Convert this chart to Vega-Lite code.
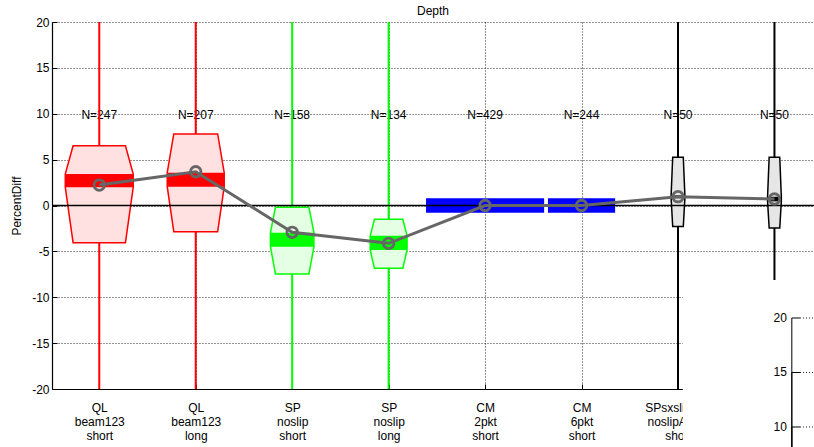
{
  "$schema": "https://vega.github.io/schema/vega-lite/v6.json",
  "width": 762,
  "height": 367,
  "autosize": {"type": "none"},
  "padding": {"left": 52, "top": 22, "right": 0, "bottom": 58},
  "title": {"text": "Depth", "fontSize": 12, "fontWeight": "normal", "color": "#000", "baseline": "bottom", "offset": -14, "anchor": "middle", "frame": "group"},
  "config": {"font": "Liberation Sans", "view": {"stroke": null}},
  "resolve": {"scale": {"y": "independent"}},
  "layer": [
    {
      "data": {"values": [
        {"cat": 1, "method": "QL", "N": 247, "lo": -20, "hi": 20, "q1": -4.05, "nLo": 2.0, "nHi": 3.43, "q3": 6.52, "mean": 2.23},
        {"cat": 2, "method": "QL", "N": 207, "lo": -20, "hi": 20, "q1": -2.85, "nLo": 2.05, "nHi": 3.58, "q3": 7.8, "mean": 3.68},
        {"cat": 3, "method": "SP", "N": 158, "lo": -20, "hi": 20, "q1": -7.47, "nLo": -4.49, "nHi": -2.96, "q3": -0.2, "mean": -2.92},
        {"cat": 4, "method": "SP", "N": 134, "lo": -20, "hi": 20, "q1": -6.85, "nLo": -4.85, "nHi": -3.3, "q3": -1.51, "mean": -4.12},
        {"cat": 5, "method": "CM", "N": 429, "lo": 0, "hi": 0, "q1": 0, "nLo": -0.78, "nHi": 0.78, "q3": 0, "mean": 0.0},
        {"cat": 6, "method": "CM", "N": 244, "lo": 0, "hi": 0, "q1": 0, "nLo": -0.78, "nHi": 0.78, "q3": 0, "mean": 0.0},
        {"cat": 7, "method": "SPsxs", "N": 50, "lo": -20, "hi": 20, "q1": -2.3, "nLo": 0.8, "nHi": 1.1, "q3": 5.25, "mean": 0.96},
        {"cat": 8, "method": "SPsxs", "N": 50, "lo": -20, "hi": 20, "q1": -2.45, "nLo": 0.45, "nHi": 0.95, "q3": 5.25, "mean": 0.71}
      ]},
      "layer": [
        {
          "transform": [{"calculate": "'N=' + datum.N", "as": "nlab"}],
          "mark": {"type": "text", "fontSize": 12, "baseline": "middle", "dy": 1, "color": "#000"},
          "encoding": {
            "x": {"field": "cat", "type": "quantitative",
              "scale": {"domain": [0.51, 8.41], "nice": false, "zero": false},
              "axis": {"values": [1, 2, 3, 4, 5, 6, 7, 8], "title": null, "grid": true, "gridColor": "#000", "gridDash": [1, 2], "gridOpacity": 0.85, "gridWidth": 1,
                "domainColor": "#000", "domainWidth": 1.2, "tickColor": "#000", "tickSize": -5, "tickWidth": 1,
                "labelFontSize": 12, "labelColor": "#000", "labelPadding": 18, "labelLineHeight": 14, "labelFlush": false, "labelOverlap": false, "labelBound": false,
                "labelExpr": "[['QL','beam123','short'],['QL','beam123','long'],['SP','noslip','short'],['SP','noslip','long'],['CM','2pkt','short'],['CM','6pkt','short'],['SPsxslipAvg','noslipAlong','short'],['SPsxslipAvg','noslipAlong','long']][datum.value - 1]"}},
            "y": {"datum": 10, "type": "quantitative",
              "scale": {"domain": [-20, 20], "nice": false, "zero": false},
              "axis": {"values": [-20, -15, -10, -5, 0, 5, 10, 15, 20], "title": "PercentDiff", "titleFontSize": 12, "titleFontWeight": "normal", "titleColor": "#000", "titlePadding": 8,
                "grid": true, "gridColor": "#000", "gridDash": [1, 2], "gridOpacity": 0.85, "gridWidth": 1,
                "domainColor": "#000", "domainWidth": 1.2, "tickColor": "#000", "tickSize": -5, "tickWidth": 1,
                "labelFontSize": 12, "labelColor": "#000", "labelPadding": 8, "labelExpr": "'' + datum.value"}},
            "text": {"field": "nlab"}
          }
        },
        {
          "transform": [{"filter": "datum.hi > datum.lo"}],
          "mark": {"type": "rule", "strokeWidth": 2},
          "encoding": {
            "x": {"field": "cat", "type": "quantitative"},
            "y": {"field": "lo", "type": "quantitative"},
            "y2": {"field": "hi"},
            "stroke": {"field": "method", "type": "nominal", "scale": {"domain": ["QL", "SP", "CM", "SPsxs"], "range": ["#FF0000", "#00FF00", "#0000FF", "#000000"]}, "legend": null}
          }
        },
        {
          "transform": [
            {"filter": "datum.q3 > datum.q1"},
            {"fold": ["q1", "nLo", "nHi", "q3"], "as": ["part", "yv"]},
            {"calculate": "datum.N * 0.001427 * ((datum.part == 'q1' || datum.part == 'q3') ? 0.77 : 1)", "as": "hw"},
            {"calculate": "datum.cat - datum.hw", "as": "xl"},
            {"calculate": "datum.cat + datum.hw", "as": "xr"}
          ],
          "mark": {"type": "area", "orient": "horizontal", "strokeWidth": 1.5},
          "encoding": {
            "x": {"field": "xl", "type": "quantitative"},
            "x2": {"field": "xr"},
            "y": {"field": "yv", "type": "quantitative"},
            "detail": {"field": "cat"},
            "fill": {"field": "method", "type": "nominal", "scale": {"domain": ["QL", "SP", "CM", "SPsxs"], "range": ["#FFE1E1", "#E4FFE4", "#DDDDFF", "#E6E6E6"]}, "legend": null},
            "stroke": {"field": "method", "type": "nominal", "legend": null}
          }
        },
        {
          "transform": [
            {"calculate": "datum.cat - datum.N * 0.001427", "as": "bl"},
            {"calculate": "datum.cat + datum.N * 0.001427", "as": "br"}
          ],
          "mark": {"type": "rect"},
          "encoding": {
            "x": {"field": "bl", "type": "quantitative"},
            "x2": {"field": "br"},
            "y": {"field": "nLo", "type": "quantitative"},
            "y2": {"field": "nHi"},
            "color": {"field": "method", "type": "nominal", "scale": {"domain": ["QL", "SP", "CM", "SPsxs"], "range": ["#FF0000", "#00FF00", "#0000FF", "#000000"]}, "legend": null}
          }
        },
        {
          "data": {"values": [{"y0": 0}]},
          "mark": {"type": "rule", "color": "#000", "strokeWidth": 1.5},
          "encoding": {"y": {"field": "y0", "type": "quantitative"}}
        },
        {
          "mark": {"type": "line", "color": "#666666", "strokeWidth": 3},
          "encoding": {
            "x": {"field": "cat", "type": "quantitative"},
            "y": {"field": "mean", "type": "quantitative"}
          }
        },
        {
          "mark": {"type": "point", "shape": "circle", "filled": false, "size": 110, "stroke": "#666666", "strokeWidth": 2.8, "opacity": 1},
          "encoding": {
            "x": {"field": "cat", "type": "quantitative"},
            "y": {"field": "mean", "type": "quantitative"}
          }
        },
        {
          "data": {"values": [{}]},
          "mark": {"type": "rect", "fill": "#ffffff"},
          "encoding": {
            "x": {"datum": 7.05},
            "x2": {"datum": 8.41},
            "y": {"datum": -8.12},
            "y2": {"datum": -30}
          }
        }
      ]
    },
    {
      "data": {"values": [{"v": 20}, {"v": 15}, {"v": 10}]},
      "layer": [
        {
          "mark": {"type": "rule", "color": "#000", "strokeWidth": 1},
          "encoding": {
            "x": {"datum": 8.18},
            "y": {"field": "v", "type": "quantitative", "scale": {"domain": [13.486, 47.156], "nice": false, "zero": false}, "axis": null},
            "y2": {"datum": 0}
          }
        },
        {
          "mark": {"type": "rule", "color": "#000", "strokeWidth": 1},
          "encoding": {
            "x": {"datum": 8.18},
            "x2": {"datum": 8.265},
            "y": {"field": "v", "type": "quantitative", "axis": null}
          }
        },
        {
          "mark": {"type": "rule", "color": "#000", "strokeWidth": 1, "strokeDash": [1, 2], "opacity": 0.85},
          "encoding": {
            "x": {"datum": 8.265},
            "x2": {"datum": 8.41},
            "y": {"field": "v", "type": "quantitative", "axis": null}
          }
        },
        {
          "mark": {"type": "text", "align": "right", "baseline": "middle", "dx": -5, "fontSize": 12, "color": "#000"},
          "encoding": {
            "x": {"datum": 8.18},
            "y": {"field": "v", "type": "quantitative", "axis": null},
            "text": {"field": "v", "type": "quantitative"}
          }
        }
      ]
    }
  ]
}
